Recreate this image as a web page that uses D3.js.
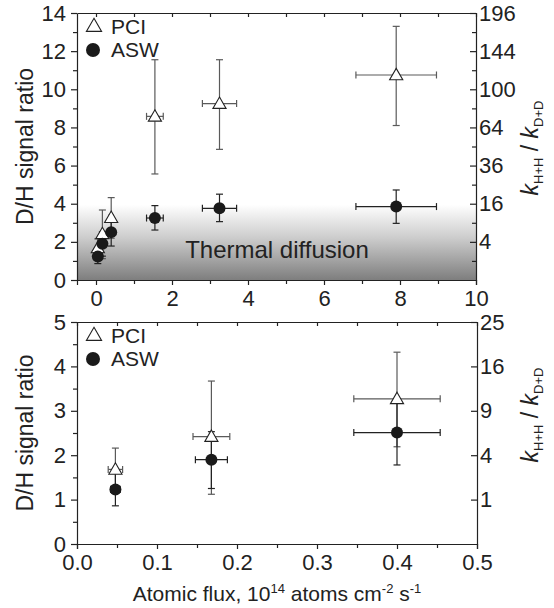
<!DOCTYPE html>
<html>
<head>
<meta charset="utf-8">
<title>D/H signal ratio</title>
<script src="https://d3js.org/d3.v7.min.js"></script>
<style>
  body { margin: 0; background: #fff; }
  text { font-family: "Liberation Sans", Arial, Helvetica, sans-serif; fill: #222; }
  .axis path, .axis line { stroke: #222; stroke-width: 1.2; }
  .axis text { font-size: 22px; fill: #222; }
</style>
</head>
<body>
<script>
// atomic flux (10^14 atoms cm^-2 s^-1) and its error
var flux = [0.048, 0.168, 0.40, 1.55, 3.25, 7.9];
var pciFluxErr = [0.009, 0.023, 0.054, 0.22, 0.45, 1.06];
var aswFluxErr = [0.006, 0.020, 0.054, 0.22, 0.45, 1.06];

// D/H signal ratio, PCI (triangles)
var pci = [1.68, 2.42, 3.27, 8.58, 9.25, 10.75];
var pciLo = [1.20, 1.12, 2.19, 5.56, 6.85, 8.10];
var pciHi = [2.16, 3.67, 4.32, 11.55, 11.55, 13.3];

// D/H signal ratio, ASW (circles)
var asw = [1.23, 1.90, 2.51, 3.25, 3.76, 3.85];
var aswLo = [0.86, 1.25, 1.78, 2.62, 3.06, 2.97];
var aswHi = [1.60, 2.53, 3.24, 3.90, 4.50, 4.72];

var topXTicks = [0, 2, 4, 6, 8, 10];
var topYTicks = [0, 2, 4, 6, 8, 10, 12, 14];
var botXTicks = [0, 0.1, 0.2, 0.3, 0.4, 0.5];
var botYTicks = [0, 1, 2, 3, 4, 5];
var thermalLimit = 3.95;

var width = 554, height = 608;
var svg = d3.select("body").append("svg")
    .attr("width", width)
    .attr("height", height);

var defs = svg.append("defs");
var grad = defs.append("linearGradient")
    .attr("id", "thermal")
    .attr("x1", 0).attr("y1", 0).attr("x2", 0).attr("y2", 1);
grad.append("stop").attr("offset", "0%").attr("stop-color", "#ffffff");
grad.append("stop").attr("offset", "45%").attr("stop-color", "#cbcbcb");
grad.append("stop").attr("offset", "100%").attr("stop-color", "#7e7e7e");

var points = flux.map(function(f, i) {
    return {x: f, pxe: pciFluxErr[i], axe: aswFluxErr[i],
            pci: pci[i], pciLo: pciLo[i], pciHi: pciHi[i],
            asw: asw[i], aswLo: aswLo[i], aswHi: aswHi[i]};
});

function drawPanel(opt) {
    var x = d3.scaleLinear().domain(opt.xDomain).range([opt.left, opt.right]);
    var y = d3.scaleLinear().domain(opt.yDomain).range([opt.bottom, opt.top]);
    var g = svg.append("g");
    var data = points.filter(function(d) { return d.x < opt.xDomain[1]; });

    if (opt.thermal) {
        g.append("rect")
            .attr("x", opt.left).attr("y", y(thermalLimit))
            .attr("width", opt.right - opt.left)
            .attr("height", opt.bottom - y(thermalLimit))
            .attr("fill", "url(#thermal)");
        g.append("text")
            .attr("x", 277).attr("y", 258)
            .attr("text-anchor", "middle")
            .style("font-size", "24px")
            .text("Thermal diffusion");
    }

    function errorBars(key, xe, color) {
        var eg = g.append("g").attr("stroke", color).attr("stroke-width", 1.2).attr("fill", "none");
        data.forEach(function(d) {
            var cx = x(d.x), cy = y(d[key]);
            var y0 = y(d[key + "Lo"]), y1 = y(d[key + "Hi"]);
            var x0 = x(d.x - d[xe]), x1 = x(d.x + d[xe]);
            eg.append("line").attr("x1", cx).attr("x2", cx).attr("y1", y0).attr("y2", y1);
            eg.append("line").attr("x1", cx - 3.5).attr("x2", cx + 3.5).attr("y1", y0).attr("y2", y0);
            eg.append("line").attr("x1", cx - 3.5).attr("x2", cx + 3.5).attr("y1", y1).attr("y2", y1);
            eg.append("line").attr("x1", x0).attr("x2", x1).attr("y1", cy).attr("y2", cy);
            eg.append("line").attr("x1", x0).attr("x2", x0).attr("y1", cy - 3.5).attr("y2", cy + 3.5);
            eg.append("line").attr("x1", x1).attr("x2", x1).attr("y1", cy - 3.5).attr("y2", cy + 3.5);
        });
    }
    errorBars("pci", "pxe", "#5a5a5a");
    errorBars("asw", "axe", "#222");

    var tri = d3.symbol().type(d3.symbolTriangle).size(75);
    g.selectAll("path.pci").data(data).enter().append("path")
        .attr("class", "pci")
        .attr("d", tri)
        .attr("transform", function(d) { return "translate(" + x(d.x) + "," + (y(d.pci) + 1) + ")"; })
        .attr("fill", "#fff").attr("stroke", "#222").attr("stroke-width", 1.1);
    g.selectAll("circle.asw").data(data).enter().append("circle")
        .attr("class", "asw")
        .attr("cx", function(d) { return x(d.x); })
        .attr("cy", function(d) { return y(d.asw); })
        .attr("r", 6)
        .attr("fill", "#1a1a1a");

    // axes
    g.append("g").attr("class", "axis")
        .attr("transform", "translate(0," + opt.bottom + ")")
        .call(d3.axisBottom(x).tickValues(opt.xTicks).tickSize(5).tickPadding(5)
            .tickFormat(opt.xFormat));
    g.append("g").attr("class", "axis")
        .attr("transform", "translate(0," + opt.bottom + ")")
        .call(d3.axisBottom(x).tickValues(opt.xMinor).tickSize(4).tickFormat(""))
        .select(".domain").remove();
    g.append("g").attr("class", "axis")
        .attr("transform", "translate(0," + opt.top + ")")
        .call(d3.axisTop(x).tickValues(opt.xMinor.concat(opt.xTicks)).tickSize(-4).tickSizeOuter(0).tickFormat(""));
    g.append("g").attr("class", "axis")
        .attr("transform", "translate(" + opt.left + ",0)")
        .call(d3.axisLeft(y).tickValues(opt.yTicks).tickSize(6).tickSizeOuter(0).tickPadding(5)
            .tickFormat(d3.format("d")));
    g.append("g").attr("class", "axis")
        .attr("transform", "translate(" + opt.left + ",0)")
        .call(d3.axisLeft(y).tickValues(opt.yMinor).tickSize(4).tickFormat(""))
        .select(".domain").remove();
    g.append("g").attr("class", "axis")
        .attr("transform", "translate(" + opt.right + ",0)")
        .call(d3.axisRight(y).tickValues(opt.yTicks.filter(function(v) { return v > 0; }))
            .tickSize(-6).tickSizeOuter(0).tickPadding(3)
            .tickFormat(function(v) { return v * v; }));
    if (opt.rightMinor) {
        g.append("g").attr("class", "axis")
            .attr("transform", "translate(" + opt.right + ",0)")
            .call(d3.axisRight(y).tickValues(opt.yMinor).tickSize(-4).tickFormat(""))
            .select(".domain").remove();
    }

    // axis titles
    var cy = (opt.top + opt.bottom) / 2;
    g.append("text")
        .attr("transform", "translate(33," + cy + ") rotate(-90)")
        .attr("text-anchor", "middle")
        .style("font-size", "23px")
        .text("D/H signal ratio");
    var rt = g.append("text")
        .attr("transform", "translate(538," + opt.rightTitleY + ") rotate(-90)")
        .attr("text-anchor", "middle")
        .style("font-size", "23px");
    rt.append("tspan").style("font-style", "italic").text("k");
    rt.append("tspan").attr("dy", 5).style("font-size", "13px").text("H+H");
    rt.append("tspan").attr("dy", -5).text(" / ");
    rt.append("tspan").style("font-style", "italic").text("k");
    rt.append("tspan").attr("dy", 5).style("font-size", "13px").text("D+D");

    // legend
    var lg = g.append("g");
    lg.append("path").attr("d", d3.symbol().type(d3.symbolTriangle).size(100))
        .attr("transform", "translate(94," + (opt.top + 14) + ")")
        .attr("fill", "#fff").attr("stroke", "#222").attr("stroke-width", 1.1);
    lg.append("text").attr("x", 111).attr("y", opt.top + 21).style("font-size", "21px").text("PCI");
    lg.append("circle").attr("cx", 93).attr("cy", opt.top + 37).attr("r", 7).attr("fill", "#1a1a1a");
    lg.append("text").attr("x", 111).attr("y", opt.top + 44).style("font-size", "21px").text("ASW");
}

drawPanel({
    left: 77, right: 476, top: 13, bottom: 280,
    xDomain: [-0.5, 10], yDomain: [0, 14],
    xTicks: topXTicks, xMinor: [1, 3, 5, 7, 9], xFormat: d3.format("d"),
    yTicks: topYTicks, yMinor: [1, 3, 5, 7, 9, 11, 13],
    thermal: true, rightMinor: true, rightTitleY: 148
});

drawPanel({
    left: 77, right: 477, top: 322, bottom: 544,
    xDomain: [0, 0.5], yDomain: [0, 5],
    xTicks: botXTicks, xMinor: [0.05, 0.15, 0.25, 0.35, 0.45], xFormat: d3.format(".1f"),
    yTicks: botYTicks, yMinor: [0.5, 1.5, 2.5, 3.5, 4.5],
    thermal: false, rightMinor: false, rightTitleY: 415
});

// x axis title
var xt = svg.append("text")
    .attr("x", 277).attr("y", 601)
    .attr("text-anchor", "middle")
    .style("font-size", "21px");
xt.append("tspan").text("Atomic flux, 10");
xt.append("tspan").attr("dy", -8).style("font-size", "13px").text("14");
xt.append("tspan").attr("dy", 8).text(" atoms cm");
xt.append("tspan").attr("dy", -8).style("font-size", "13px").text("-2");
xt.append("tspan").attr("dy", 8).text(" s");
xt.append("tspan").attr("dy", -8).style("font-size", "13px").text("-1");
</script>
</body>
</html>
